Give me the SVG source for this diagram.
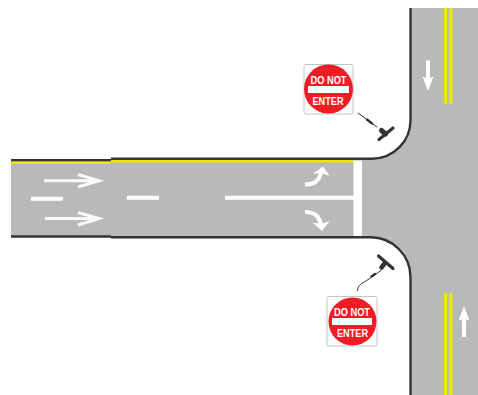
<svg xmlns="http://www.w3.org/2000/svg" width="478" height="395" viewBox="0 0 478 395">
<style>
.curb{fill:none;stroke:#333;stroke-width:2.400}
.yel{fill:none;stroke:#eee800}
.wht{fill:none;stroke:#fff;stroke-width:4}
.thin{fill:none;stroke:#fafafa;stroke-width:3}
.fill{fill:#fff;stroke:none}
.dark{fill:none;stroke:#333;stroke-linecap:round}
.sgn{font-family:"Liberation Sans",Arial,sans-serif;fill:#fff;text-anchor:middle;font-size:10.500px;font-weight:700}
</style>
<rect width="478" height="395" fill="#fff"/>
<path id="road" d="M11 160H111V158.700H372A38.500 38.500 0 0 0 410.500 120V8H478V395H410.500V277.300A40 40 0 0 0 370.500 237.300H111V236.500H11Z" fill="#b9b9b9"/>
<g id="connectors">
<path class="curb" d="M11 160.300H111M111 158.700H372A38.500 38.500 0 0 0 410.500 120.200V8"/>
<path class="curb" d="M11 236.500H111M111 237.300H370.500A40 40 0 0 1 410.500 277.300V395"/>
</g>
<g id="markings">
<path class="yel" stroke-width="2.500" d="M11 162.800H111M111 161.300H353"/>
<path class="yel" stroke-width="3.200" d="M445.600 8V103.500M451 8V103.500M445.600 293V395M451 293V395"/>
<rect x="353.500" y="160.500" width="8.500" height="75.500" fill="#fff"/>
<path class="wht" d="M225 197.700H354"/>
<path class="wht" d="M31 198.700H63M127 197.700H159"/>
<path class="thin" d="M44 180.700H99M78 174.500L99 180.700L78 187"/>
<path class="thin" d="M45 218.500H99M78 212.500L99 218.500L78 225"/>
<path class="wht" d="M305 184.500C315 184.500 319 181 321 172"/>
<path class="fill" d="M312.500 174L323 166.500L329.500 176L321.500 173Z"/>
<path class="wht" d="M305 212C315 212 319 216 321 225"/>
<path class="fill" d="M312.500 222.500L322 231L329.500 221L321.500 224Z"/>
<path class="fill" d="M426 60.500H430V78L433.500 76.500L428 91L422.500 76.500L426 78Z"/>
<path class="fill" d="M462 337H466V319L469.500 320.500L464 306L458.500 320.500L462 319Z"/>
</g>
<g id="sign-top">
<rect x="304" y="64.500" width="49" height="49.500" rx="2" fill="#fff" stroke="#c4c4c4"/>
<circle cx="328.500" cy="89" r="24.500" fill="#ee1c25"/>
<rect x="308" y="86" width="41" height="7" fill="#fff"/>
<text class="sgn" x="328.500" y="83.500" textLength="36" lengthAdjust="spacingAndGlyphs">DO NOT</text>
<text class="sgn" x="328" y="104.500" textLength="31" lengthAdjust="spacingAndGlyphs">ENTER</text>
</g>
<g id="signal-top">
<path class="dark" d="M358 113L377 127" stroke-width="1"/>
<path class="dark" d="M367 119.500L372 123.500" stroke-width="2.400"/>
<path class="dark" d="M379 139.500L393 128" stroke-width="3.200"/>
<path class="dark" d="M381.500 130.500L385.500 134" stroke-width="5"/>
</g>
<g id="sign-bottom">
<rect x="327" y="296.500" width="50" height="49.500" rx="2" fill="#fff" stroke="#c4c4c4"/>
<circle cx="352.500" cy="321.500" r="24" fill="#ee1c25"/>
<rect x="332" y="318" width="40" height="7" fill="#fff"/>
<text class="sgn" x="352" y="316" textLength="36" lengthAdjust="spacingAndGlyphs">DO NOT</text>
<text class="sgn" x="352.500" y="337" textLength="31" lengthAdjust="spacingAndGlyphs">ENTER</text>
</g>
<g id="signal-bottom">
<path class="dark" d="M357.500 290.500C358 285 362 283 366 281L381 270.500" stroke-width="1"/>
<path class="dark" d="M371.500 276.500L375 274" stroke-width="2.400"/>
<path class="dark" d="M378.500 256L393 268.500" stroke-width="3.200"/>
<path class="dark" d="M385 263L381.500 267.500" stroke-width="4.500"/>
</g>
</svg>
